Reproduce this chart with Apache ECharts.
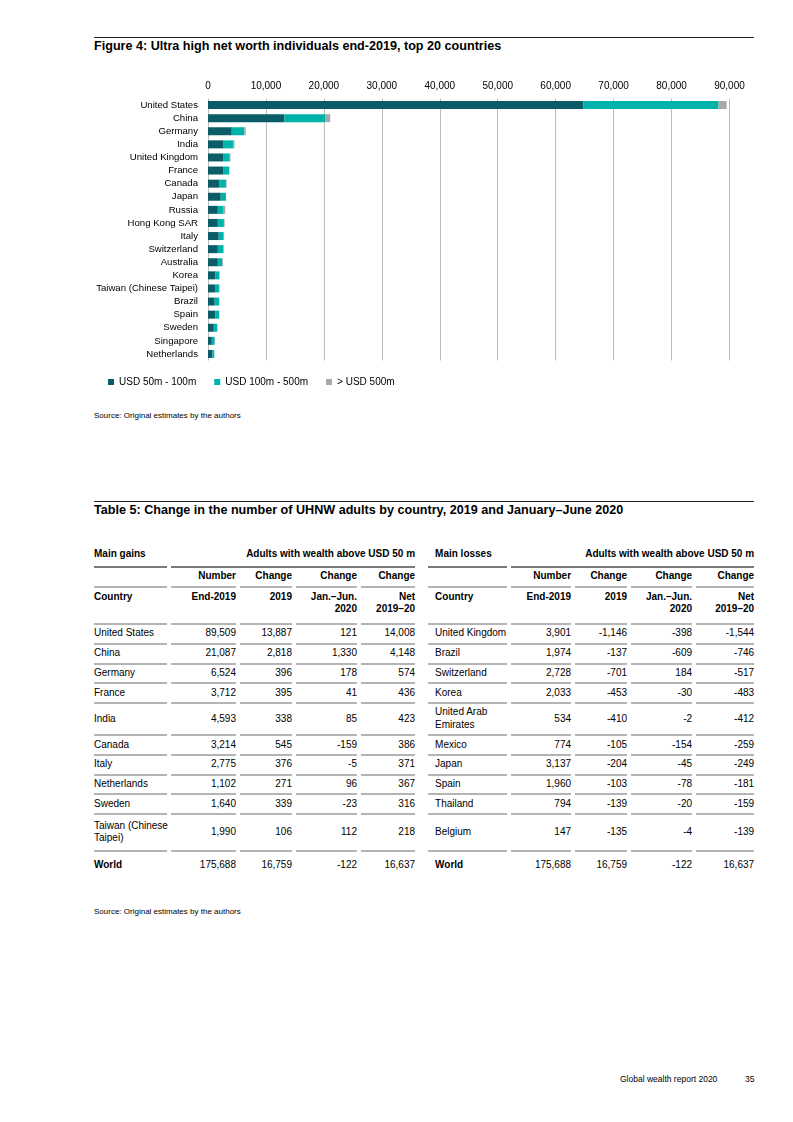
<!DOCTYPE html>
<html>
<head>
<meta charset="utf-8">
<script src="https://cdn.jsdelivr.net/npm/echarts@6/dist/echarts.min.js"></script>
<style>
  body { margin: 0; background: #fff; font-family: "Liberation Sans", Arial, sans-serif; color: #000; }
  #page { position: relative; width: 793px; height: 1122px; }
  .rule { position: absolute; left: 94px; width: 660px; height: 0; border-top: 1px solid #222; }
  .title { position: absolute; left: 94px; font-weight: bold; font-size: 12.6px; }
  .source { position: absolute; left: 94px; font-size: 8px; }
  #main { position: absolute; left: 0; top: 70px; width: 793px; height: 330px; }
  #uhnw { position: absolute; left: 90px; top: 542.5px; width: 668px; border-collapse: separate; border-spacing: 4px 0; table-layout: fixed; font-size: 10px; }
  #uhnw td { padding: 0; box-sizing: border-box; text-align: right; vertical-align: middle; white-space: nowrap; line-height: 12.5px; }
  #uhnw td.c { text-align: left; }
  #uhnw td.r2 { padding-left: 7px; }
  #uhnw td.gap { border: none !important; }
  #uhnw tr.h td { font-weight: bold; }
  #uhnw tr.hd td { border-bottom: 2px solid #7a7a7a; }
  #uhnw tr.ln td { border-bottom: 2px solid #b4b4b4; }
  #uhnw tr.h3 td { vertical-align: top; padding-top: 3px; }
  .foot { position: absolute; top: 1074px; font-size: 8.5px; }
</style>
</head>
<body>
<div id="page">
  <div class="rule" style="top:37px"></div>
  <div class="title" style="top:39px">Figure 4: Ultra high net worth individuals end-2019, top 20 countries</div>
  <div id="main"></div>
  <div class="source" style="top:411px">Source: Original estimates by the authors</div>

  <div class="rule" style="top:501px"></div>
  <div class="title" style="top:503px">Table 5: Change in the number of UHNW adults by country, 2019 and January–June 2020</div>
  <table id="uhnw"></table>
  <div class="source" style="top:907px">Source: Original estimates by the authors</div>

  <div class="foot" style="left:620px">Global wealth report 2020</div>
  <div class="foot" style="left:745px">35</div>
</div>
<script type="text/javascript">
  // Figure 4 data (number of UHNW adults, end-2019)
  var countries = ['United States', 'China', 'Germany', 'India', 'United Kingdom', 'France', 'Canada', 'Japan',
    'Russia', 'Hong Kong SAR', 'Italy', 'Switzerland', 'Australia', 'Korea', 'Taiwan (Chinese Taipei)',
    'Brazil', 'Spain', 'Sweden', 'Singapore', 'Netherlands'];
  var band50to100 = [64800, 13200, 4100, 2700, 2600, 2600, 2000, 2200, 1700, 1700, 1850, 1700, 1700, 1300, 1200, 1150, 1250, 1000, 650, 750];
  var band100to500 = [23300, 7000, 2200, 1650, 1150, 1050, 1100, 900, 1000, 1050, 850, 950, 750, 650, 700, 750, 650, 550, 500, 330];
  var bandOver500 = [1400, 900, 220, 240, 150, 60, 110, 40, 280, 120, 75, 80, 140, 80, 90, 70, 60, 90, 70, 20];
  var seriesNames = ['USD 50m - 100m', 'USD 100m - 500m', '> USD 500m'];
  var xTicks = [0, 10000, 20000, 30000, 40000, 50000, 60000, 70000, 80000, 90000];

  // Table 5 data
  var gainCountry = ['United States', 'China', 'Germany', 'France', 'India', 'Canada', 'Italy', 'Netherlands', 'Sweden', 'Taiwan (Chinese\nTaipei)'];
  var gainNumber = ['89,509', '21,087', '6,524', '3,712', '4,593', '3,214', '2,775', '1,102', '1,640', '1,990'];
  var gainChange2019 = ['13,887', '2,818', '396', '395', '338', '545', '376', '271', '339', '106'];
  var gainChangeH1 = ['121', '1,330', '178', '41', '85', '-159', '-5', '96', '-23', '112'];
  var gainNet = ['14,008', '4,148', '574', '436', '423', '386', '371', '367', '316', '218'];
  var lossCountry = ['United Kingdom', 'Brazil', 'Switzerland', 'Korea', 'United Arab\nEmirates', 'Mexico', 'Japan', 'Spain', 'Thailand', 'Belgium'];
  var lossNumber = ['3,901', '1,974', '2,728', '2,033', '534', '774', '3,137', '1,960', '794', '147'];
  var lossChange2019 = ['-1,146', '-137', '-701', '-453', '-410', '-105', '-204', '-103', '-139', '-135'];
  var lossChangeH1 = ['-398', '-609', '184', '-30', '-2', '-154', '-45', '-78', '-20', '-4'];
  var lossNet = ['-1,544', '-746', '-517', '-483', '-412', '-259', '-249', '-181', '-159', '-139'];
  var worldRow = ['175,688', '16,759', '-122', '16,637'];
  var rowHeights = [20, 20, 19.5, 19.5, 32.5, 19.5, 20, 19.5, 19.5, 37.5];

  function cell(text, cls) {
    return '<td' + (cls ? ' class="' + cls + '"' : '') + '>' + String(text).replace('\n', '<br>') + '</td>';
  }

  function buildTable() {
    var widths = [73, 65, 52, 61, 54, 5, 79, 60, 52, 61, 58];
    var html = '<colgroup>' + widths.map(function (w) { return '<col style="width:' + w + 'px">'; }).join('') + '</colgroup>';
    html += '<tr class="h hd" style="height:25px">' + cell('Main gains', 'c') + '<td colspan="4">Adults with wealth above USD 50 m</td>' +
      cell('', 'gap') + cell('Main losses', 'c r2') + '<td colspan="4">Adults with wealth above USD 50 m</td></tr>';
    html += '<tr class="h ln" style="height:20px">' + cell('') + cell('Number') + cell('Change') + cell('Change') + cell('Change') +
      cell('', 'gap') + cell('') + cell('Number') + cell('Change') + cell('Change') + cell('Change') + '</tr>';
    html += '<tr class="h ln h3" style="height:37px">' + cell('Country', 'c') + cell('End-2019') + cell('2019') + cell('Jan.–Jun.<br>2020') + cell('Net<br>2019–20') +
      cell('', 'gap') + cell('Country', 'c r2') + cell('End-2019') + cell('2019') + cell('Jan.–Jun.<br>2020') + cell('Net<br>2019–20') + '</tr>';
    for (var i = 0; i < gainCountry.length; i++) {
      html += '<tr class="ln" style="height:' + rowHeights[i] + 'px">' +
        cell(gainCountry[i], 'c') + cell(gainNumber[i]) + cell(gainChange2019[i]) + cell(gainChangeH1[i]) + cell(gainNet[i]) +
        cell('', 'gap') +
        cell(lossCountry[i], 'c r2') + cell(lossNumber[i]) + cell(lossChange2019[i]) + cell(lossChangeH1[i]) + cell(lossNet[i]) + '</tr>';
    }
    html += '<tr class="h" style="height:27px">' + cell('World', 'c') + worldRow.map(function (v) { return '<td style="font-weight:normal">' + v + '</td>'; }).join('') +
      cell('', 'gap') + cell('World', 'c r2') + worldRow.map(function (v) { return '<td style="font-weight:normal">' + v + '</td>'; }).join('') + '</tr>';
    document.getElementById('uhnw').innerHTML = html;
  }

  function drawChart() {
    var chart = echarts.init(document.getElementById('main'));
    var colors = ['#0b5c66', '#00b3aa', '#a9a9a9'];
    var bands = [band50to100, band100to500, bandOver500];
    chart.setOption({
      animation: false,
      textStyle: { fontFamily: 'Liberation Sans, Arial, sans-serif' },
      grid: { left: 208, right: 63.5, top: 28.5, height: 262 },
      legend: {
        data: seriesNames,
        left: 108,
        top: 307,
        padding: 0,
        icon: 'rect',
        itemWidth: 6,
        itemHeight: 6,
        itemGap: 18,
        textStyle: { fontSize: 10, color: '#000' }
      },
      xAxis: {
        type: 'value',
        position: 'top',
        min: xTicks[0],
        max: xTicks[xTicks.length - 1],
        interval: xTicks[1] - xTicks[0],
        axisLine: { show: false },
        axisTick: { show: false },
        axisLabel: {
          fontSize: 10,
          color: '#000',
          margin: 7,
          formatter: function (v) { return v.toLocaleString('en-US'); }
        },
        splitLine: { lineStyle: { color: '#bdbdbd', width: 1 } }
      },
      yAxis: {
        type: 'category',
        inverse: true,
        data: countries,
        axisLine: { show: false },
        axisTick: { show: false },
        axisLabel: { fontSize: 9.6, color: '#000', margin: 10 }
      },
      series: bands.map(function (d, i) {
        return {
          name: seriesNames[i],
          type: 'bar',
          stack: 'total',
          barWidth: 8,
          itemStyle: { color: colors[i] },
          data: d
        };
      })
    });
  }

  buildTable();
  drawChart();
</script>
</body>
</html>
